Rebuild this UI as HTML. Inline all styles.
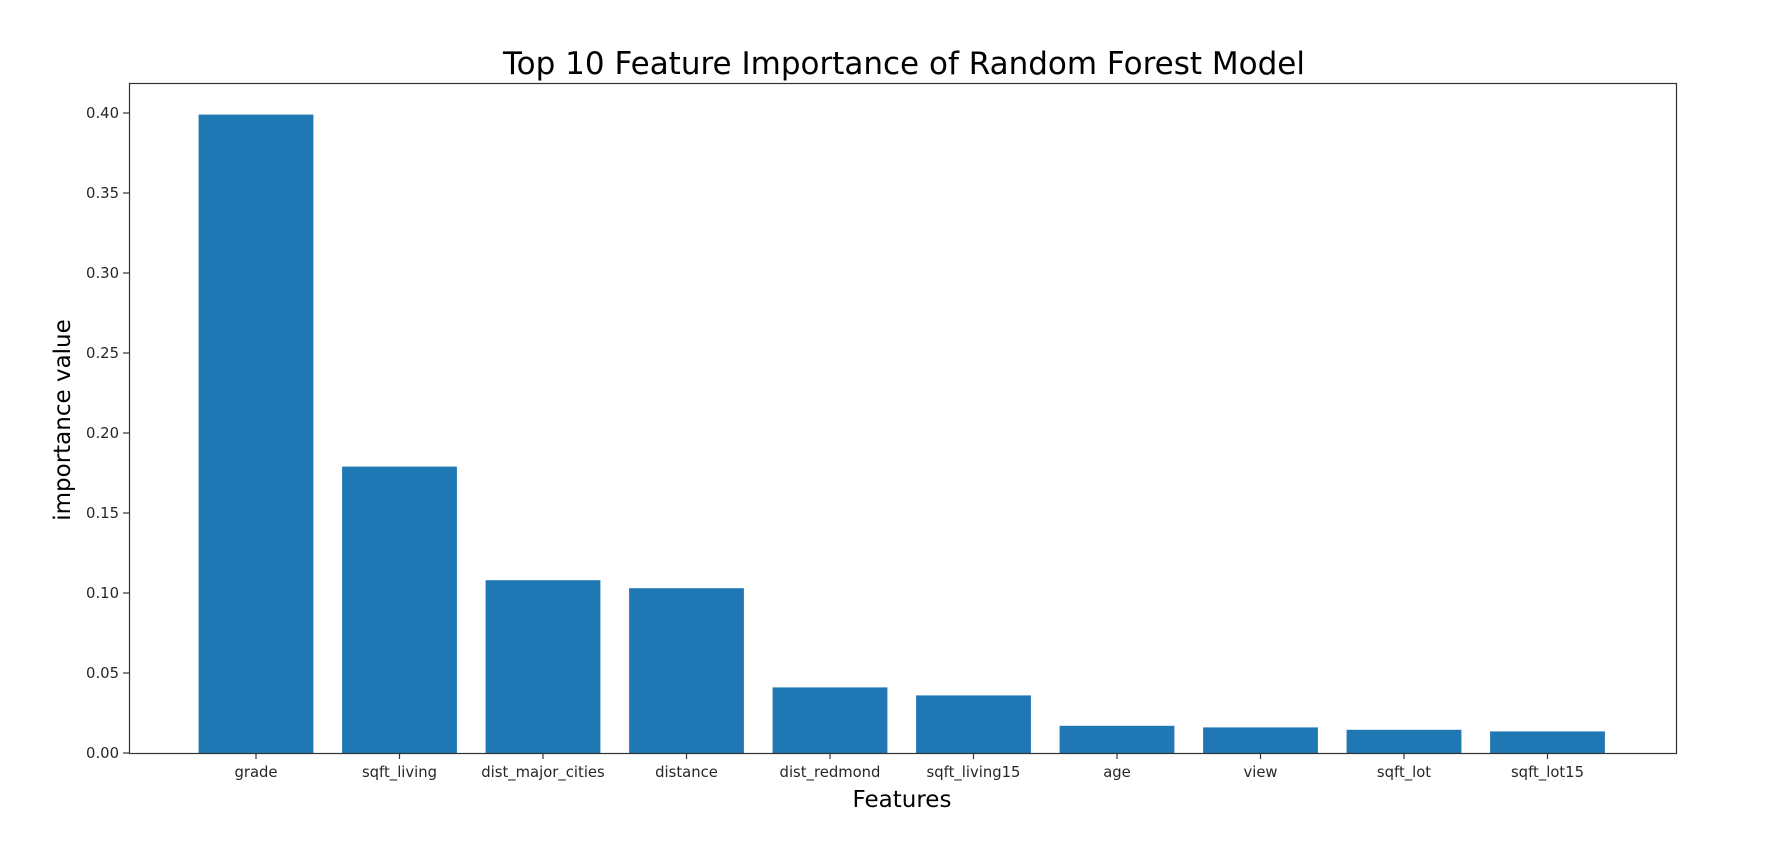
<!DOCTYPE html>
<html><head><meta charset="utf-8"><style>
html,body{margin:0;padding:0;background:#fff;}
svg text{font-family:"DejaVu Sans","Liberation Sans",sans-serif;}
</style></head><body>
<svg id="chart" width="1770" height="840" xmlns="http://www.w3.org/2000/svg">
<rect width="1770" height="840" fill="#fff"/>
<text x="904" y="74" font-size="31" text-anchor="middle" fill="#000">Top 10 Feature Importance of Random Forest Model</text>
<g id="bars"></g>
<g id="yticks"></g>
<g id="xticks"></g>
<rect x="129.5" y="83.5" width="1547" height="670" fill="none" stroke="#333" stroke-width="1.2"/>
<text transform="translate(70,420) rotate(-90)" font-size="23" text-anchor="middle" fill="#000">importance value</text>
<text x="902" y="807" font-size="23" text-anchor="middle" fill="#000">Features</text>
</svg>
<script>
const categories = ["grade","sqft_living","dist_major_cities","distance","dist_redmond","sqft_living15","age","view","sqft_lot","sqft_lot15"];
const values = [0.399, 0.179, 0.108, 0.103, 0.041, 0.036, 0.017, 0.016, 0.0145, 0.0135];
const yTickValues = [0.00,0.05,0.10,0.15,0.20,0.25,0.30,0.35,0.40];
const yTickLabels = ["0.00","0.05","0.10","0.15","0.20","0.25","0.30","0.35","0.40"];
const NS = "http://www.w3.org/2000/svg";
const unit = 143.5, x0 = 256;
function xScale(i){ return x0 + i*unit; }
function yScale(v){ return 753 - v*1600; }
function mk(tag, attrs){ const e=document.createElementNS(NS,tag); for(const k in attrs) e.setAttribute(k,attrs[k]); return e; }
const bars=document.getElementById('bars'), xt=document.getElementById('xticks'), yt=document.getElementById('yticks');
categories.forEach((c,i)=>{
  const cx=xScale(i), w=0.8*unit, top=yScale(values[i]);
  const r=mk('rect',{x:cx-w/2,y:top,width:w,height:yScale(0)-top,fill:'#1f77b4'});
  
  
  bars.appendChild(r);
  const t=mk('line',{x1:cx,x2:cx,y1:753,y2:759,stroke:'#333','stroke-width':1.2});
  
  
  xt.appendChild(t);
  const l=mk('text',{x:cx,y:777,'font-size':14.8,'text-anchor':'middle',fill:'#262626'});
  l.textContent=c;
  
  
  xt.appendChild(l);
});
yTickValues.forEach((v,i)=>{
  const y=yScale(v);
  const t=mk('line',{x1:123,x2:129,y1:y,y2:y,stroke:'#333','stroke-width':1.2});
  
  
  yt.appendChild(t);
  const l=mk('text',{x:119,y:y+5,'font-size':14.8,'text-anchor':'end',fill:'#262626'});
  l.textContent=yTickLabels[i];
  
  
  yt.appendChild(l);
});
</script>
</body></html>
